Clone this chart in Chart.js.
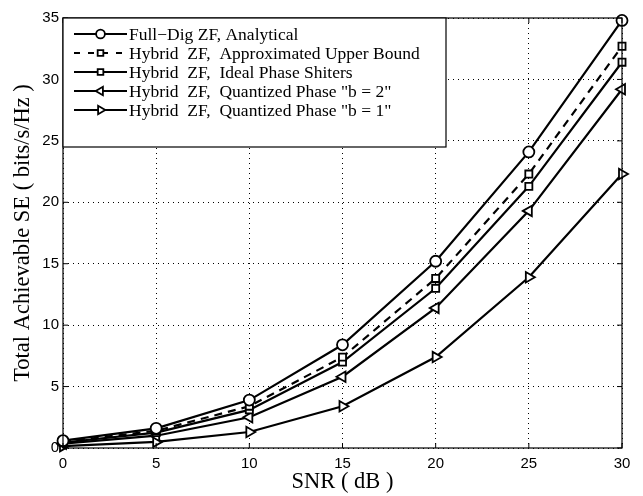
<!DOCTYPE html>
<html>
<head>
<meta charset="utf-8">
<script src="https://cdn.jsdelivr.net/npm/chart.js@4/dist/chart.umd.min.js"></script>
<style>
  html, body { margin: 0; padding: 0; background: #fff; }
  #wrap { width: 643px; height: 496px; }
</style>
</head>
<body>
<div id="wrap"><canvas id="seChart" width="643" height="496"></canvas></div>
<script>
// SNR points (dB) and spectral efficiency per scheme
const snrValues = [0, 5, 10, 15, 20, 25, 30];
const fullDig = [0.6, 1.6, 3.9, 8.4, 15.2, 24.1, 34.8];
const approxUpper = [0.5, 1.4, 3.4, 7.4, 13.8, 22.3, 32.7];
const idealPS = [0.45, 1.25, 3.1, 7.0, 13.0, 21.3, 31.4];
const quantB2 = [0.35, 1.0, 2.5, 5.8, 11.4, 19.3, 29.2];
const quantB1 = [0.15, 0.5, 1.3, 3.4, 7.4, 13.9, 22.3];
const yTicks = [0, 5, 10, 15, 20, 25, 30, 35];

const seriesLabels = [
  'Full\u2212Dig ZF, Analytical',
  'Hybrid  ZF,  Approximated Upper Bound',
  'Hybrid  ZF,  Ideal Phase Shiters',
  'Hybrid  ZF,  Quantized Phase "b = 2"',
  'Hybrid  ZF,  Quantized Phase "b = 1"'
];

const serif = '"Liberation Serif", "Times New Roman", serif';
const sans = '"Liberation Sans", Arial, sans-serif';

function series(label, values, style, rot, radius, dash) {
  return {
    label: label,
    data: values,
    borderColor: '#000',
    borderWidth: 2.2,
    borderDash: dash || [],
    pointStyle: style,
    pointRotation: rot,
    pointRadius: radius,
    pointBorderWidth: 1.8,
    pointBackgroundColor: '#fff',
    pointBorderColor: '#000',
    tension: 0,
    fill: false,
    clip: false
  };
}

// box around plot, small inward ticks, legend inside the axes
const boxAndLegend = {
  id: 'boxAndLegend',
  afterDraw(chart) {
    const { ctx, chartArea: a, scales } = chart;
    ctx.save();
    ctx.strokeStyle = '#000';
    ctx.lineWidth = 1.2;
    ctx.strokeRect(a.left, a.top, a.right - a.left, a.bottom - a.top);

    ctx.lineWidth = 1;
    ctx.beginPath();
    snrValues.forEach(v => {
      const x = scales.x.getPixelForValue(v);
      ctx.moveTo(x, a.bottom); ctx.lineTo(x, a.bottom - 5);
      ctx.moveTo(x, a.top); ctx.lineTo(x, a.top + 5);
    });
    yTicks.forEach(v => {
      const y = scales.y.getPixelForValue(v);
      ctx.moveTo(a.left, y); ctx.lineTo(a.left + 5, y);
      ctx.moveTo(a.right, y); ctx.lineTo(a.right - 5, y);
    });
    ctx.stroke();

    const lx = a.left, ly = a.top, lw = 383, lh = 129;
    ctx.fillStyle = '#fff';
    ctx.fillRect(lx, ly, lw, lh);
    ctx.lineWidth = 1.2;
    ctx.strokeRect(lx, ly, lw, lh);

    ctx.font = '17.5px ' + serif;
    ctx.textBaseline = 'middle';
    chart.data.datasets.forEach((ds, i) => {
      const y = ly + 16 + i * 19;
      ctx.strokeStyle = '#000';
      ctx.lineWidth = 2.2;
      ctx.setLineDash(ds.borderDash.length ? [6, 8] : []);
      ctx.beginPath();
      ctx.moveTo(lx + 11, y);
      ctx.lineTo(lx + 64, y);
      ctx.stroke();
      ctx.setLineDash([]);
      ctx.lineWidth = 1.8;
      ctx.fillStyle = '#fff';
      Chart.helpers.drawPoint(ctx, {
        pointStyle: ds.pointStyle,
        rotation: ds.pointRotation,
        radius: ds.pointRadius * 0.8,
        borderWidth: 1.8
      }, lx + 37.5, y);
      ctx.fillStyle = '#000';
      ctx.fillText(ds.label, lx + 66, y + 1);
    });
    ctx.restore();
  }
};

const config = {
  type: 'line',
  data: {
    labels: snrValues,
    datasets: [
      series(seriesLabels[0], fullDig, 'circle', 0, 5.5),
      series(seriesLabels[1], approxUpper, 'rect', 0, 5, [8, 6]),
      series(seriesLabels[2], idealPS, 'rect', 0, 5),
      series(seriesLabels[3], quantB2, 'triangle', -90, 6),
      series(seriesLabels[4], quantB1, 'triangle', 90, 6)
    ]
  },
  options: {
    responsive: false,
    animation: false,
    layout: { padding: { top: 18, right: 21, left: 0, bottom: 0 } },
    plugins: { legend: { display: false }, tooltip: { enabled: false } },
    scales: {
      x: {
        type: 'linear',
        min: 0, max: 30,
        afterBuildTicks: s => { s.ticks = snrValues.map(v => ({ value: v })); },
        afterFit: s => { s.height = 48; },
        grid: { color: '#000', lineWidth: 1, drawTicks: false },
        border: { display: false, dash: [1, 4] },
        ticks: { color: '#000', padding: 7, font: { family: sans, size: 15 } },
        title: {
          display: true, text: 'SNR ( dB )', color: '#000', padding: { top: 0, bottom: 0 },
          font: { family: serif, size: 22.5 }
        }
      },
      y: {
        min: 0, max: 35,
        afterBuildTicks: s => { s.ticks = yTicks.map(v => ({ value: v })); },
        afterFit: s => { s.width = 63; },
        grid: { color: '#000', lineWidth: 1, drawTicks: false },
        border: { display: false, dash: [1, 4] },
        ticks: { color: '#000', padding: 4, font: { family: sans, size: 15 } },
        title: {
          display: true, text: 'Total Achievable SE ( bits/s/Hz )', color: '#000', padding: { top: 10, bottom: 0 },
          font: { family: serif, size: 22.5 }
        }
      }
    }
  },
  plugins: [boxAndLegend]
};

const seChart = new Chart(document.getElementById('seChart'), config);
</script>
</body>
</html>
